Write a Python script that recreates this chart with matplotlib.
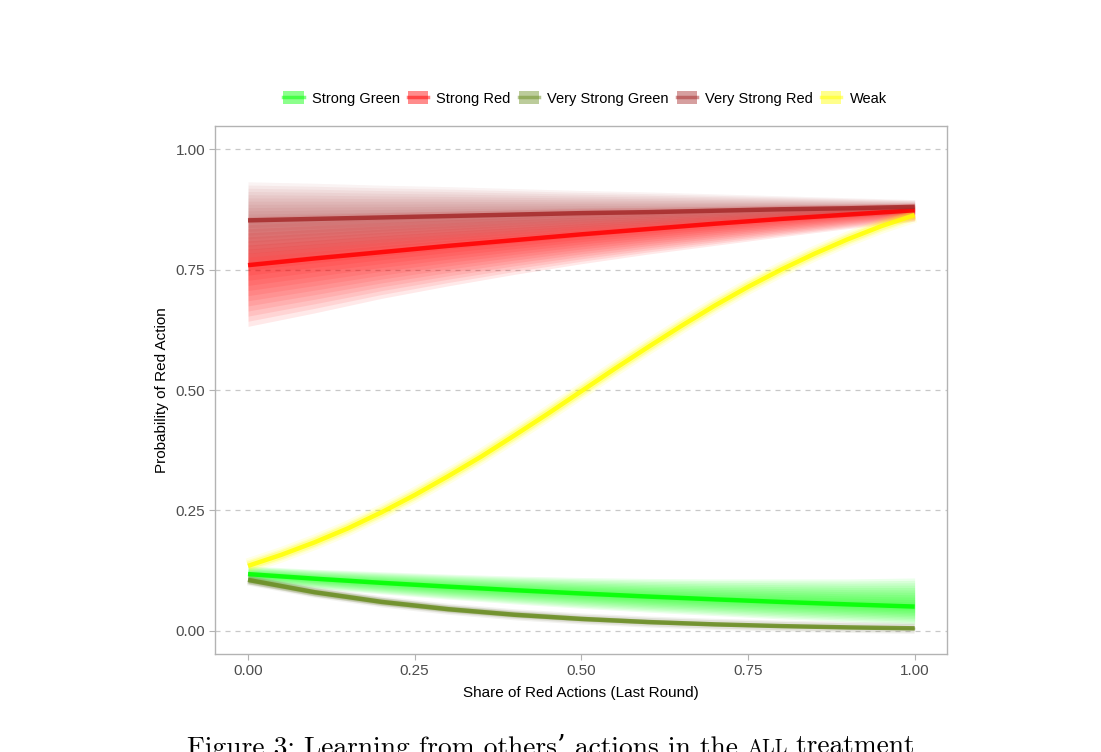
import numpy as np
import matplotlib
matplotlib.use("Agg")
import matplotlib.pyplot as plt
from matplotlib.patches import Patch
from matplotlib.lines import Line2D

plt.rcParams['font.family'] = ['Liberation Sans', 'DejaVu Sans']

# ---------------- data ----------------
x11 = [0.0, 0.1, 0.2, 0.3, 0.4, 0.5, 0.6, 0.7, 0.8, 0.9, 1.0]
x21 = [0.0, 0.05, 0.1, 0.15, 0.2, 0.25, 0.3, 0.35, 0.4, 0.45, 0.5,
       0.55, 0.6, 0.65, 0.7, 0.75, 0.8, 0.85, 0.9, 0.95, 1.0]

strong_green = [0.118, 0.1085, 0.0999, 0.0920, 0.0846, 0.0778, 0.0714, 0.0656, 0.0602, 0.0552, 0.0506]
strong_green_lo = [0.100, 0.088, 0.077, 0.066, 0.056, 0.047, 0.039, 0.032, 0.025, 0.019, 0.013]
strong_green_hi = [0.135, 0.128, 0.123, 0.118, 0.114, 0.111, 0.109, 0.108, 0.108, 0.108, 0.110]

strong_red = [0.759, 0.773, 0.786, 0.799, 0.811, 0.823, 0.834, 0.845, 0.855, 0.864, 0.873]
strong_red_lo = [0.632, 0.660, 0.690, 0.716, 0.740, 0.762, 0.782, 0.800, 0.818, 0.835, 0.850]
strong_red_hi = [0.860, 0.864, 0.868, 0.871, 0.874, 0.877, 0.879, 0.881, 0.884, 0.886, 0.888]

very_strong_green = [0.106, 0.0804, 0.0604, 0.0452, 0.0336, 0.0250, 0.0185, 0.0137, 0.0101, 0.0074, 0.0055]
very_strong_green_lo = [0.097, 0.072, 0.053, 0.039, 0.028, 0.020, 0.014, 0.010, 0.007, 0.004, 0.002]
very_strong_green_hi = [0.116, 0.090, 0.070, 0.054, 0.042, 0.032, 0.025, 0.019, 0.015, 0.012, 0.010]

very_strong_red = [0.852, 0.855, 0.858, 0.861, 0.864, 0.867, 0.869, 0.872, 0.875, 0.877, 0.880]
very_strong_red_lo = [0.760, 0.775, 0.790, 0.803, 0.815, 0.826, 0.836, 0.845, 0.852, 0.859, 0.865]
very_strong_red_hi = [0.932, 0.929, 0.925, 0.922, 0.918, 0.914, 0.911, 0.907, 0.903, 0.899, 0.895]

weak = [0.135, 0.158, 0.184, 0.213, 0.246, 0.282, 0.321, 0.362, 0.406, 0.451, 0.4975,
        0.544, 0.589, 0.633, 0.675, 0.714, 0.750, 0.783, 0.813, 0.840, 0.863]

labels = ["Strong Green", "Strong Red", "Very Strong Green", "Very Strong Red", "Weak"]
colors = ["#00FF00", "#FF0000", "#6B8E23", "#A52A2A", "#FFFF00"]

yticks = [0.0, 0.25, 0.5, 0.75, 1.0]
xticks = [0.0, 0.25, 0.5, 0.75, 1.0]
ticklabels = ["0.00", "0.25", "0.50", "0.75", "1.00"]

# ---------------- figure ----------------
fig = plt.figure(figsize=(11.01, 7.52), dpi=100)
ax = fig.add_axes([215/1101, 1-654/752, (947-215)/1101, (654-126)/752])
ax.set_xlim(-0.0495, 1.0485)
ax.set_ylim(-0.0478, 1.0478)

# gridlines
for yt in yticks:
    ax.axhline(yt, color="#C8C8C8", lw=0.9, dashes=(4, 4), zorder=0)

def fan(x, med, lo, hi, color, n=12, a=0.085):
    x = np.asarray(x); med = np.asarray(med); lo = np.asarray(lo); hi = np.asarray(hi)
    for f in np.linspace(1.0, 0.08, n):
        ax.fill_between(x, med + f*(lo-med), med + f*(hi-med), color=color,
                        alpha=a, lw=0, zorder=1)

series = [
    (x11, strong_green, strong_green_lo, strong_green_hi, 0.08),
    (x11, strong_red, strong_red_lo, strong_red_hi, 0.085),
    (x11, very_strong_green, very_strong_green_lo, very_strong_green_hi, 0.08),
    (x11, very_strong_red, very_strong_red_lo, very_strong_red_hi, 0.055),
]
for (xx, m, lo, hi, a), c in zip(series, colors[:4]):
    fan(xx, m, lo, hi, c, a=a)

# weak: thin glow
for lw, a in [(11, 0.10), (8, 0.15), (6, 0.25)]:
    ax.plot(x21, weak, color=colors[4], lw=lw, alpha=a, solid_capstyle='butt', zorder=2)
for lw, a in [(8, 0.12), (6, 0.2)]:
    ax.plot(x11, very_strong_green, color="#9a9a80", lw=lw, alpha=a, solid_capstyle='butt', zorder=2)

lines_data = [(x11, strong_green), (x11, strong_red), (x11, very_strong_green),
              (x11, very_strong_red), (x21, weak)]
for (xx, m), c in zip(lines_data, colors):
    ax.plot(xx, m, color=c, lw=3.2, alpha=0.85, solid_capstyle='butt', zorder=3)

# axes styling
for s in ax.spines.values():
    s.set_color("#B3B3B3")
    s.set_linewidth(1.0)
ax.set_xticks(xticks)
ax.set_xticklabels(ticklabels)
ax.set_yticks(yticks)
ax.set_yticklabels(ticklabels)
ax.tick_params(axis='both', colors="#B3B3B3", length=4, width=0.8, labelsize=11,
               labelcolor="#4D4D4D", pad=3)
ax.set_xlabel("Share of Red Actions (Last Round)", fontsize=11, color="black", labelpad=6)
ax.set_ylabel("Probability of Red Action", fontsize=11, color="black", labelpad=5)

# legend
handles = []
for c in colors:
    handles.append((Patch(facecolor=c, alpha=0.45, edgecolor='none'),
                    Line2D([], [], color=c, lw=2.5, alpha=0.5)))
leg = fig.legend(handles, labels, loc='center', bbox_to_anchor=(585/1101, 1-98.5/752),
                 ncol=5, frameon=False, fontsize=10.5, handlelength=1.4, handleheight=1.0,
                 handletextpad=0.55, columnspacing=0.55, borderaxespad=0)

# caption (clipped at the bottom as in the reference)
renderer = fig.canvas.get_renderer()
cap_font = dict(family=['cmr10', 'DejaVu Serif'], fontsize=19.8, va='top', color='black')
t1 = fig.text(187/1101, 1-734/752, "Figure 3: Learning from others\u2019 actions in the ", **cap_font)
bb = t1.get_window_extent(renderer)
x2 = bb.x1 / fig.bbox.width
t2 = fig.text(x2, 1-739/752, "ALL", family=['cmr10', 'DejaVu Serif'], fontsize=14.5, va='top')
bb2 = t2.get_window_extent(renderer)
x3 = bb2.x1 / fig.bbox.width
t3 = fig.text(x3, 1-734/752, " treatment", **cap_font)

fig.savefig("out.png", dpi=100)
